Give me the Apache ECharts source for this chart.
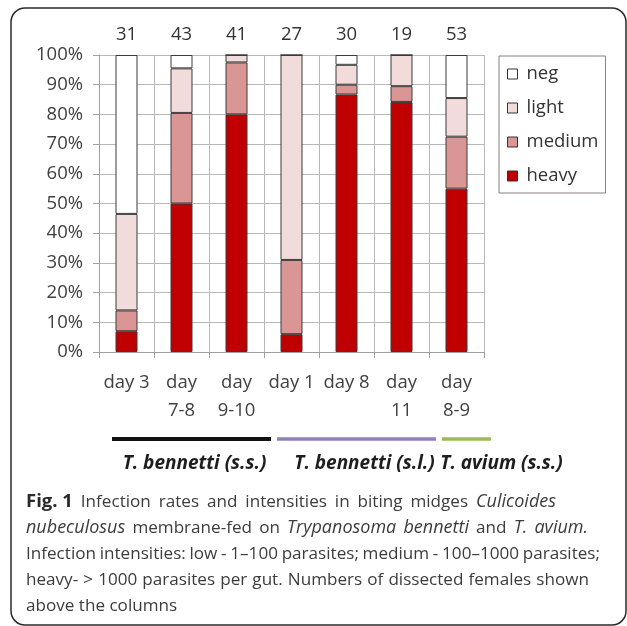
<!DOCTYPE html>
<html><head><meta charset="utf-8">
<script src="https://cdn.jsdelivr.net/npm/echarts@6/dist/echarts.min.js"></script>
<style>html,body{margin:0;padding:0;background:#fff}#c{width:627px;height:626px}</style>
</head><body><div id="c"></div>
<script>
const categories = ['day 3', 'day\n7-8', 'day\n9-10', 'day 1', 'day 8', 'day\n11', 'day\n8-9'];
const counts = ['31', '43', '41', '27', '30', '19', '53'];
const heavy  = [7,    50,   80,   6,  86.7, 84.2, 55];
const medium = [7,    30.5, 17.5, 25, 3.3,  5.3,  17.5];
const light  = [32.5, 15,   2.5,  69, 6.7,  10.5, 13];
const neg    = [53.5, 4.5,  0,    0,  3.3,  0,    14.5];
const seriesNames = ['heavy', 'medium', 'light', 'neg'];
const legendOrder = ['neg', 'light', 'medium', 'heavy'];
const groups = [
  { name: 'T. bennetti (s.s.)', from: 0, to: 2, color: '#111111' },
  { name: 'T. bennetti (s.l.)', from: 3, to: 5, color: '#8f80bd' },
  { name: 'T. avium (s.s.)',    from: 6, to: 6, color: '#9bbb59' }
];
const captionLines = [
  '{b|Fig.\u00a01} Infection rates and intensities in biting midges {i|Culicoides}',
  '{i|nubeculosus} membrane-fed on {i|Trypanosoma bennetti} and {i|T. avium.}',
  'Infection intensities: low - 1\u2013100 parasites; medium - 100\u20131000 parasites;',
  'heavy- > 1000 parasites per gut. Numbers of dissected females shown',
  'above the columns'
];

const FONT = 'Open Sans';
const colors = { heavy: '#c00000', medium: '#d99694', light: '#f2dcdb', neg: '#ffffff' };
const dataMap = { heavy, medium, light, neg };

const chart = echarts.init(document.getElementById('c'));
const gridLeft = 99, gridRight = 143, gridTop = 55, gridBottom = 274;

chart.setOption({
  animation: false,
  textStyle: { fontFamily: FONT },
  grid: { left: gridLeft, right: gridRight, top: gridTop, bottom: gridBottom },
  legend: {
    data: legendOrder,
    orient: 'vertical',
    left: 499, top: 56,
    icon: 'rect',
    itemWidth: 10, itemHeight: 10, itemGap: 10,
    padding: [6, 7, 5, 8],
    borderColor: '#8a8080', borderWidth: 1,
    itemStyle: { borderColor: '#333', borderWidth: 1 },
    textStyle: { fontFamily: FONT, fontSize: 18.5, color: '#333', lineHeight: 24, padding: [0, 0, 0, 4] }
  },
  xAxis: [{
    type: 'category',
    data: categories,
    axisLine: { lineStyle: { color: '#a0a0a0' } },
    axisTick: { show: true, length: 6, lineStyle: { color: '#a0a0a0' } },
    splitLine: { show: true, lineStyle: { color: '#b8b8b8' } },
    axisLabel: { interval: 0, fontFamily: FONT, fontSize: 18.5, color: '#404040', lineHeight: 28, margin: 17 }
  }, {
    type: 'category',
    position: 'top',
    data: counts,
    axisLine: { show: false }, axisTick: { show: false }, splitLine: { show: false },
    axisLabel: { interval: 0, fontFamily: FONT, fontSize: 18.5, color: '#333', margin: 11 }
  }],
  yAxis: {
    type: 'value', min: 0, max: 100, interval: 10,
    axisLine: { show: true, lineStyle: { color: '#a0a0a0' } },
    axisTick: { show: true, length: 6, lineStyle: { color: '#a0a0a0' } },
    splitLine: { lineStyle: { color: '#b8b8b8' } },
    axisLabel: { formatter: '{value}%', fontFamily: FONT, fontSize: 18.5, color: '#404040', margin: 16 }
  },
  series: seriesNames.map(n => ({
    name: n, type: 'bar', stack: 'all', barWidth: 22,
    data: dataMap[n],
    itemStyle: { color: colors[n], borderColor: '#3a3a3a', borderWidth: 1 }
  }))
});

// annotations computed from the category axis
const catW = (627 - gridLeft - gridRight) / categories.length;
const graphics = [];
graphics.push({
  type: 'rect', shape: { x: 11, y: 8, width: 615, height: 617, r: 14 },
  style: { fill: 'none', stroke: '#2a2a2a', lineWidth: 1.5 }, z: 10
});
const labelOffsets = [3, 8, 35];
groups.forEach((g, k) => {
  const x0 = chart.convertToPixel({ xAxisIndex: 0 }, g.from) - catW / 2 + 13;
  const x1 = chart.convertToPixel({ xAxisIndex: 0 }, g.to) + catW / 2 + 7;
  graphics.push({
    type: 'line', shape: { x1: x0, y1: 439, x2: x1, y2: 439 },
    style: { stroke: g.color, lineWidth: k === 0 ? 4 : 3.5 }, z: 10
  });
  graphics.push({
    type: 'text', x: (x0 + x1) / 2 + labelOffsets[k], y: 464,
    style: { text: g.name, fontFamily: FONT, fontSize: 19, fontWeight: 'bold', fontStyle: 'italic',
      fill: '#1e1e1e', textAlign: 'center', textVerticalAlign: 'middle' }, z: 10
  });
});

// caption: words laid out along each line
const capStyles = {
  r: { fontSize: 17.1, fontWeight: 'normal', fontStyle: 'normal', fill: '#3c3c3c' },
  b: { fontSize: 18.5, fontWeight: 'bold', fontStyle: 'normal', fill: '#2a2a2a' },
  i: { fontSize: 18, fontWeight: 'normal', fontStyle: 'italic', fill: '#3c3c3c' }
};
const lineEnds = [556, 588, 600, 589, null];
const capLeft = 26, capTop = 502, capStep = 26;
const ctx = document.createElement('canvas').getContext('2d');
function fontStr(s) { return `${s.fontStyle} ${s.fontWeight} ${s.fontSize}px "${FONT}"`; }
captionLines.forEach((line, li) => {
  const words = [];
  const re = /\{(\w)\|([^}]*)\}|([^{]+)/g;
  let m;
  while ((m = re.exec(line))) {
    const st = m[1] || 'r';
    const txt = m[1] ? m[2] : m[3];
    txt.split(' ').filter(w => w.length).forEach(w => words.push({ st, w }));
  }
  let sum = 0;
  words.forEach(o => { ctx.font = fontStr(capStyles[o.st]); o.width = ctx.measureText(o.w).width; sum += o.width; });
  ctx.font = fontStr(capStyles.r);
  const natural = ctx.measureText(' ').width;
  let gap = natural;
  if (lineEnds[li] && words.length > 1) {
    gap = (lineEnds[li] - capLeft - sum) / (words.length - 1);
    if (gap < natural * 0.6) gap = natural * 0.6;
  }
  let x = capLeft;
  words.forEach(o => {
    const s = capStyles[o.st];
    graphics.push({
      type: 'text', x: x, y: capTop + li * capStep,
      style: { text: o.w, fontFamily: FONT, fontSize: s.fontSize, fontWeight: s.fontWeight,
        fontStyle: s.fontStyle, fill: s.fill, textAlign: 'left', textVerticalAlign: 'middle' }, z: 10
    });
    x += o.width + gap;
  });
});
chart.setOption({ graphic: graphics });
</script></body></html>
